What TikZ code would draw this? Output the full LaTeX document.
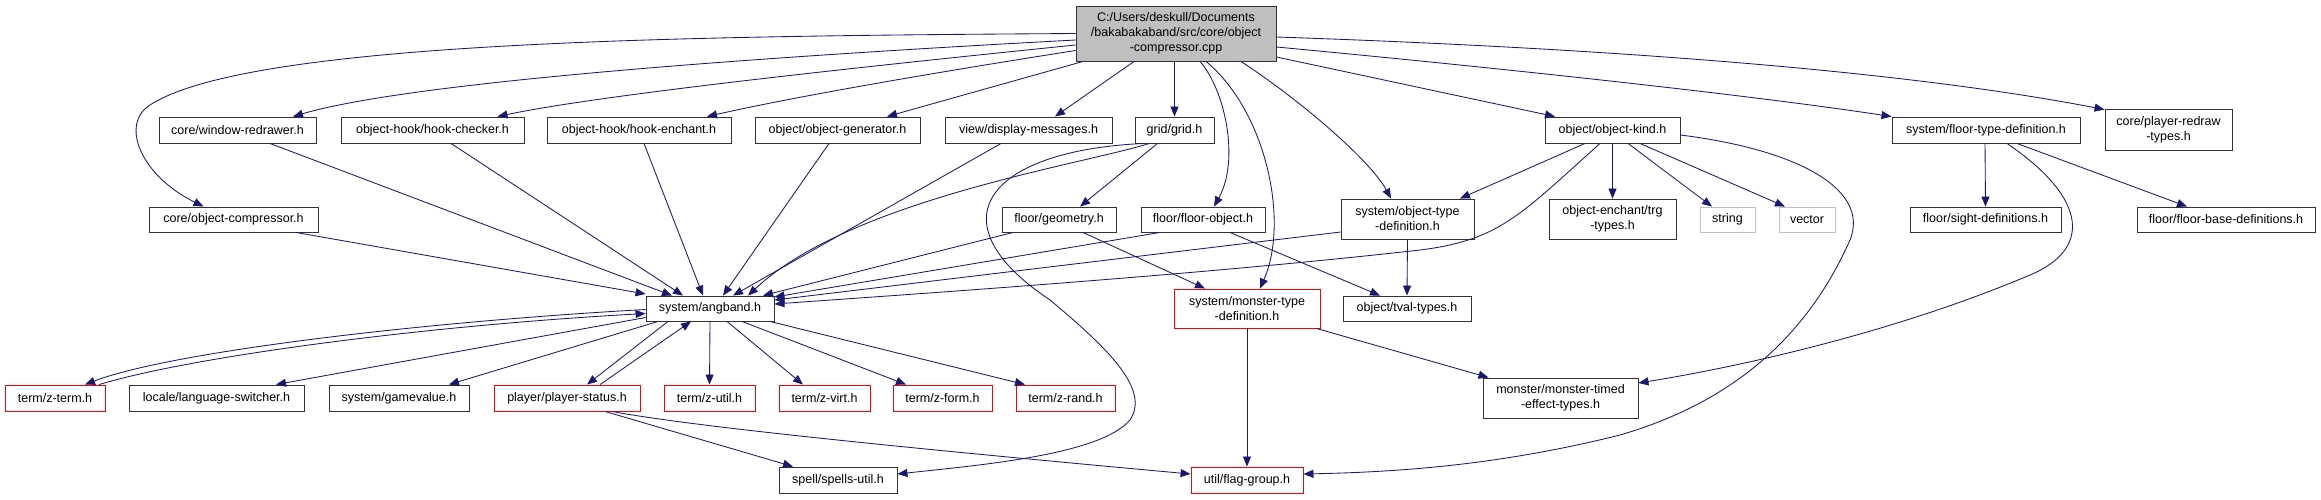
\documentclass[tikz,border=0pt]{standalone}
\usepackage{fontspec}
\setmainfont{Liberation Sans}
\usetikzlibrary{arrows.meta}
\definecolor{edgec}{HTML}{191970}
\definecolor{rootg}{HTML}{BFBFBF}
\definecolor{graybd}{HTML}{BFBFBF}
\begin{document}
\begin{tikzpicture}[x=1pt,y=-1pt,
  nbox/.style={draw=black!80, line width=0.9pt, fill=white, inner sep=0pt,
    font=\fontsize{12.5}{15}\selectfont, align=center, minimum height=26pt},
  redbox/.style={nbox, draw=red},
  graybox/.style={nbox, draw=graybd},
  conn/.style={draw=edgec, line width=0.85pt, -{Triangle[length=10pt,width=8pt]}},
]
\useasboundingbox[fill=white] (0,0) rectangle (2321,499);

% nodes
\node[nbox,fill=rootg,minimum width=200pt,minimum height=55pt] (root) at (1176,33.5) {C:/Users/deskull/Documents\\/bakabakaband/src/core/object\\-compressor.cpp};
\node[nbox,minimum width=157pt] (wr) at (237.5,130) {core/window-redrawer.h};
\node[nbox,minimum width=183pt] (hc) at (432.5,130) {object-hook/hook-checker.h};
\node[nbox,minimum width=184pt] (he) at (639,130) {object-hook/hook-enchant.h};
\node[nbox,minimum width=165pt] (og) at (837.5,130) {object/object-generator.h};
\node[nbox,minimum width=167pt] (dm) at (1028.5,130) {view/display-messages.h};
\node[nbox,minimum width=79pt] (grid) at (1174.5,130) {grid/grid.h};
\node[nbox,minimum width=135pt] (ok) at (1612.5,130) {object/object-kind.h};
\node[nbox,minimum width=188pt] (ftd) at (1986,130) {system/floor-type-definition.h};
\node[nbox,minimum width=127pt,minimum height=41pt] (prt) at (2168.5,129.5) {core/player-redraw\\-types.h};

\node[nbox,minimum width=169pt,minimum height=25pt] (oc) at (233.5,219.5) {core/object-compressor.h};
\node[nbox,minimum width=114pt,minimum height=25pt] (geo) at (1059,219.5) {floor/geometry.h};
\node[nbox,minimum width=124pt,minimum height=25pt] (fo) at (1203,219.5) {floor/floor-object.h};
\node[nbox,minimum width=133pt,minimum height=40pt] (otd) at (1407.5,219) {system/object-type\\-definition.h};
\node[nbox,minimum width=127pt,minimum height=40pt] (trg) at (1612.5,219) {object-enchant/trg\\-types.h};
\node[graybox,minimum width=55pt,minimum height=25pt] (str) at (1727.5,219.5) {string};
\node[graybox,minimum width=56pt,minimum height=25pt] (vec) at (1807,219.5) {vector};
\node[nbox,minimum width=151pt,minimum height=25pt] (sd) at (1985.5,219.5) {floor/sight-definitions.h};
\node[nbox,minimum width=178pt,minimum height=25pt] (fbd) at (2226,219.5) {floor/floor-base-definitions.h};

\node[nbox,minimum width=128pt,minimum height=25pt] (ang) at (710,308.5) {system/angband.h};
\node[redbox,minimum width=146pt,minimum height=39pt] (mtd) at (1247,308.5) {system/monster-type\\-definition.h};
\node[nbox,minimum width=128pt,minimum height=25pt] (tval) at (1407,308.5) {object/tval-types.h};

\node[redbox,minimum width=100pt] (zt) at (55,398) {term/z-term.h};
\node[nbox,minimum width=175pt] (ls) at (216.5,398) {locale/language-switcher.h};
\node[nbox,minimum width=140pt] (gv) at (399,398) {system/gamevalue.h};
\node[redbox,minimum width=146pt] (ps) at (567,398) {player/player-status.h};
\node[redbox,minimum width=91pt] (zu) at (709.5,398) {term/z-util.h};
\node[redbox,minimum width=91pt] (zv) at (824.5,398) {term/z-virt.h};
\node[redbox,minimum width=99pt] (zf) at (942.5,398) {term/z-form.h};
\node[redbox,minimum width=99pt] (zr) at (1065.5,398) {term/z-rand.h};
\node[nbox,minimum width=155pt,minimum height=40pt] (mte) at (1560.5,398) {monster/monster-timed\\-effect-types.h};

\node[nbox,minimum width=118pt] (su) at (838,480) {spell/spells-util.h};
\node[redbox,minimum width=112pt] (fg) at (1247,480) {util/flag-group.h};

% edges from root
\draw[conn] (root.west) .. controls (700,36) and (250,40) .. (150,105) .. controls (120,124) and (140,175) .. ([xshift=-30pt]oc.north);
\draw[conn] ([yshift=-6.5pt]root.west) .. controls (700,60) and (400,85) .. ([xshift=55.5pt]wr.north);
\draw[conn] ([yshift=-11.5pt]root.west) .. controls (850,68) and (600,95) .. ([xshift=65pt]hc.north);
\draw[conn] ([yshift=-17pt]root.west) .. controls (900,78) and (780,100) .. ([xshift=68pt]he.north);
\draw[conn] ([xshift=-93pt]root.south) -- ([xshift=49.5pt]og.north);
\draw[conn] ([xshift=-42pt]root.south) -- ([xshift=26.5pt]dm.north);
\draw[conn] (grid.north |- root.south) -- (grid.north);
\draw[conn] ([xshift=24pt]root.south) .. controls (1225,90) and (1240,160) .. ([xshift=11pt]fo.north);
\draw[conn] ([xshift=30pt]root.south) .. controls (1265,110) and (1290,220) .. ([xshift=13pt]mtd.north);
\draw[conn] ([xshift=65pt]root.south) .. controls (1300,100) and (1370,160) .. ([xshift=-16.5pt]otd.north);
\draw[conn] ([yshift=-23.5pt]root.east) -- ([xshift=-57.5pt]ok.north);
\draw[conn] ([yshift=-13.5pt]root.east) .. controls (1500,68) and (1750,95) .. (ftd.north west);
\draw[conn] ([yshift=-3.5pt]root.east) .. controls (1600,48) and (1900,70) .. ([yshift=-1pt]prt.north west);

% row 1 to angband
\draw[conn] ([xshift=32.5pt]wr.south) -- ([xshift=-38pt]ang.north);
\draw[conn] ([xshift=18.5pt]hc.south) -- ([xshift=-27pt]ang.north);
\draw[conn] ([xshift=5pt]he.south) -- ([xshift=-7pt]ang.north);
\draw[conn] ([xshift=-8.5pt]og.south) -- ([xshift=13pt]ang.north);
\draw[conn] ([xshift=-27.5pt]dm.south) -- ([xshift=23pt]ang.north);
\draw[conn] ([xshift=62.5pt]oc.south) -- ([yshift=14.5pt]ang.west);
\draw[conn] ([xshift=-25pt]grid.south) .. controls (1080,165) and (850,200) .. ([xshift=38pt]ang.north);
\draw[conn] ([xshift=-30pt]grid.south) .. controls (990,150) and (930,220) .. (1050,300) .. controls (1110,350) and (1150,390) .. (1130,420) .. controls (1100,455) and (980,465) .. ([yshift=6pt]su.east);
\draw[conn] ([xshift=-17pt]grid.south) -- ([xshift=21pt]geo.north);
\draw[conn] ([xshift=-46pt]geo.south) -- ([xshift=53pt]ang.north);
\draw[conn] ([xshift=24pt]geo.south) -- ([xshift=-42pt]mtd.north);
\draw[conn] ([xshift=-43pt]fo.south) -- ([yshift=11.5pt]ang.east);
\draw[conn] ([xshift=27pt]fo.south) -- ([xshift=-27pt]tval.north);
\draw[conn] ([yshift=-13pt]otd.west) -- ([yshift=8.5pt]ang.east);
\draw[conn] (otd.south) -- (tval.north);
\draw[conn] ([xshift=-27.5pt]ok.south) -- ([xshift=52.5pt]otd.north);
\draw[conn] ([xshift=-12.5pt]ok.south) .. controls (1520,215) and (1500,240) .. (1420,250) .. controls (1200,275) and (900,295) .. ([yshift=4.5pt]ang.east);
\draw[conn] (ok.south) -- (trg.north);
\draw[conn] ([xshift=15.5pt]ok.south) -- ([xshift=-15.5pt]str.north);
\draw[conn] ([xshift=27.5pt]ok.south) -- ([xshift=-22pt]vec.north);
\draw[conn] ([yshift=-5pt]ok.east) .. controls (1800,150) and (1870,190) .. (1850,240) .. controls (1810,330) and (1740,400) .. (1620,435) .. controls (1500,465) and (1400,472) .. ([yshift=6pt]fg.east);
\draw[conn] ([xshift=-1pt]ftd.south) -- (sd.north);
\draw[conn] ([xshift=31pt]ftd.south) -- ([xshift=-39pt]fbd.north);
\draw[conn] ([xshift=21pt]ftd.south) .. controls (2090,200) and (2090,250) .. (2030,275) .. controls (1900,330) and (1750,365) .. ([yshift=15pt]mte.east);
\draw[conn] (mtd.south) -- (fg.north);
\draw[conn] ([xshift=-4pt]mtd.south east) -- ([xshift=-72pt]mte.north);

% angband outgoing
\draw[conn] ([yshift=-1pt]ang.west) .. controls (420,322) and (170,352) .. ([xshift=30pt]zt.north);
\draw[conn] ([xshift=44pt]zt.north) .. controls (190,357) and (420,326) .. ([yshift=-5pt]ang.west);
\draw[conn] ([yshift=-9pt]ang.west) -- ([xshift=59.5pt]ls.north);
\draw[conn] ([xshift=-52pt]ang.south) -- ([xshift=50pt]gv.north);
\draw[conn] ([xshift=-42pt]ang.south) -- ([xshift=20pt]ps.north);
\draw[conn] ([xshift=33pt]ps.north) -- ([xshift=-19pt]ang.south);
\draw[conn] (ang.south) -- (zu.north);
\draw[conn] ([xshift=17pt]ang.south) -- ([xshift=-21.5pt]zv.north);
\draw[conn] ([xshift=32pt]ang.south) -- ([xshift=-36.5pt]zf.north);
\draw[conn] ([xshift=60pt]ang.south) -- ([xshift=-40.5pt]zr.north);
\draw[conn] ([xshift=38pt]ps.south) -- ([xshift=-45pt]su.north);
\draw[conn] ([xshift=45pt]ps.south) .. controls (700,428) and (950,452) .. ([yshift=6pt]fg.west);
\end{tikzpicture}
\end{document}
